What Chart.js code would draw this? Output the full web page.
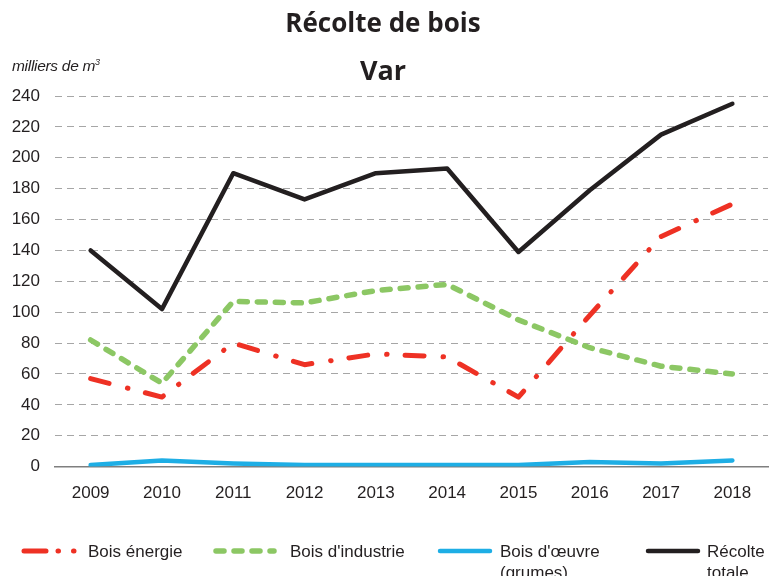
<!DOCTYPE html>
<html>
<head>
<meta charset="utf-8">
<script src="https://cdn.jsdelivr.net/npm/chart.js@4/dist/chart.umd.min.js"></script>
<style>
  html, body { margin: 0; padding: 0; background: #fff; }
  #wrap { position: relative; width: 776px; height: 576px; overflow: hidden; }
  #c { position: absolute; left: 0; top: 0; }
  .t { position: absolute; white-space: nowrap; color: #231f20; }
  #title { font-family: "Open Sans", sans-serif; font-weight: 700; font-size: 26px; line-height: 26px; left: 0; width: 766px; text-align: center; top: 9px; }
  #sub { font-family: "Open Sans", sans-serif; font-weight: 700; font-size: 27px; line-height: 27px; left: 0; width: 766px; text-align: center; top: 56px; }
  #unit { font-family: "Liberation Sans", Arial, sans-serif; font-style: italic; font-size: 15.5px; line-height: 15px; left: 12px; top: 55px; letter-spacing: -0.3px; }
  .leg { position: absolute; top: 538px; font-family: "Liberation Sans", Arial, sans-serif; font-size: 17px; line-height: 21px; color: #231f20; }
  .leg svg { position: absolute; left: 0; top: 0; }
  .leg span { position: absolute; top: 3px; white-space: nowrap; }
</style>
</head>
<body>
<div id="wrap">
  <canvas id="c" width="776" height="576"></canvas>
  <div class="t" id="title"></div>
  <div class="t" id="sub"></div>
  <div class="t" id="unit">milliers de m<sup style="font-size:9px;vertical-align:6px;">3</sup></div>
  <div id="legend"></div>
</div>
<script>
// ---- data ----
const categories = ['2009', '2010', '2011', '2012', '2013', '2014', '2015', '2016', '2017', '2018'];
const boisEnergie = [57, 45, 80, 66, 73, 71, 45, 98, 149, 170];
const boisIndustrie = [82, 54, 107, 106, 114, 118, 95, 77, 65, 60];
const boisOeuvre = [1, 4, 2, 1, 1, 1, 1, 3, 2, 4];
const recolteTotale = [140, 102, 190, 173, 190, 193, 139, 179, 215, 235];
const seriesNames = ['Bois énergie', "Bois d'industrie", "Bois d'œuvre\n(grumes)", 'Récolte\ntotale'];
const yTicks = [0, 20, 40, 60, 80, 100, 120, 140, 160, 180, 200, 220, 240];
const titleText = 'Récolte de bois';
const subtitleText = 'Var';

document.getElementById('title').textContent = titleText;
document.getElementById('sub').textContent = subtitleText;

const RED = '#ee3124', GREEN = '#8cc764', BLUE = '#1eaee5', BLACK = '#231f20';

const datasets = [
  { label: seriesNames[0], data: boisEnergie, borderColor: RED, backgroundColor: RED, borderWidth: 5, borderDash: [19, 19, 0.5, 18], borderCapStyle: 'round', order: 2 },
  { label: seriesNames[1], data: boisIndustrie, borderColor: GREEN, backgroundColor: GREEN, borderWidth: 5.5, borderDash: [8, 10], borderCapStyle: 'round', order: 3 },
  { label: seriesNames[2], data: boisOeuvre, borderColor: BLUE, backgroundColor: BLUE, borderWidth: 4.5, borderCapStyle: 'round', order: 4 },
  { label: seriesNames[3], data: recolteTotale, borderColor: BLACK, backgroundColor: BLACK, borderWidth: 4.5, borderCapStyle: 'round', order: 1 }
];

new Chart(document.getElementById('c'), {
  type: 'line',
  data: { labels: categories, datasets: datasets },
  options: {
    responsive: false,
    animation: false,
    events: [],
    layout: { padding: { top: 96, right: 8, bottom: 55, left: 0 } },
    elements: { point: { radius: 0 }, line: { tension: 0, borderJoinStyle: 'round' } },
    plugins: { legend: { display: false }, title: { display: false }, tooltip: { enabled: false } },
    scales: {
      x: {
        offset: true,
        grid: { display: false, drawTicks: false, offset: true },
        border: { display: true, color: '#7f7f7f', width: 1.5 },
        ticks: { color: '#231f20', font: { family: 'Liberation Sans', size: 17 }, padding: 17, maxRotation: 0 }
      },
      y: {
        min: 0, max: 240,
        afterFit: s => { s.width = 55; },
        afterBuildTicks: s => { s.ticks = yTicks.map(v => ({ value: v })); },
        grid: { color: '#a6a6a6', lineWidth: 1, drawTicks: false },
        border: { display: false, dash: [7, 5] },
        ticks: { color: '#231f20', font: { family: 'Liberation Sans', size: 17 }, padding: 15 }
      }
    }
  }
});

// ---- HTML legend ----
const legendItems = [
  { left: 20, text: seriesNames[0], color: RED, width: 5, dash: '22 12 0.5 15 0.5 40', len: 62, textLeft: 68 },
  { left: 212, text: seriesNames[1], color: GREEN, width: 5.5, dash: '8 10', len: 64, textLeft: 78 },
  { left: 436, text: seriesNames[2], color: BLUE, width: 4.5, dash: '', len: 56, textLeft: 64 },
  { left: 644, text: seriesNames[3], color: BLACK, width: 4.5, dash: '', len: 56, textLeft: 63 }
];
const legEl = document.getElementById('legend');
legendItems.forEach(it => {
  const d = document.createElement('div');
  d.className = 'leg';
  d.style.left = it.left + 'px';
  const y = 13;
  d.innerHTML = '<svg width="' + (it.len + 8) + '" height="26"><line x1="4" y1="' + y + '" x2="' + (it.len - 2) + '" y2="' + y +
    '" stroke="' + it.color + '" stroke-width="' + it.width + '" stroke-linecap="round"' + (it.dash ? ' stroke-dasharray="' + it.dash + '"' : '') + '/></svg>';
  const s = document.createElement('span');
  s.style.left = it.textLeft + 'px';
  s.innerHTML = it.text.split('\n').map(t => t.replace(/&/g, '&amp;')).join('<br>');
  d.appendChild(s);
  legEl.appendChild(d);
});
</script>
</body>
</html>
